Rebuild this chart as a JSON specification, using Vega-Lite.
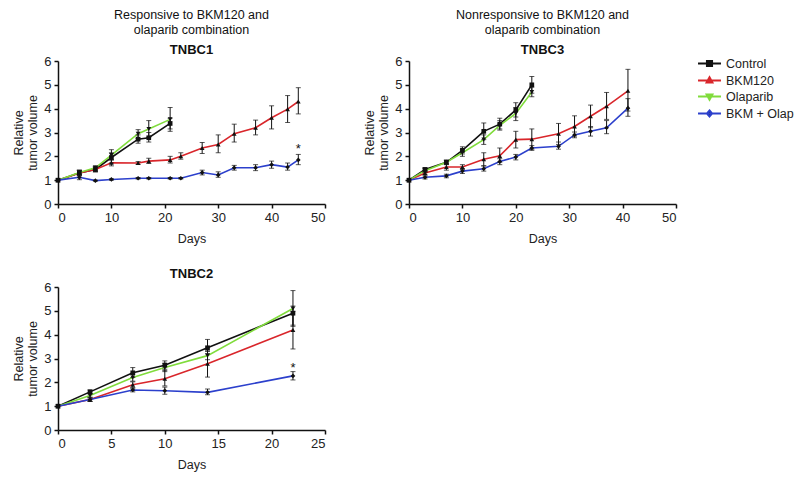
{
"$schema": "https://vega.github.io/schema/vega-lite/v6.json",
"padding": {"left": 12, "top": 8, "right": 5, "bottom": 5},
"config": {
  "font": "Liberation Sans",
  "view": {"stroke": null},
  "axis": {"grid": false, "domainColor": "#111", "domainWidth": 1.5, "tickColor": "#111", "tickWidth": 1.5, "tickSize": 4, "labelColor": "#222", "labelFontSize": 13, "titleColor": "#222", "titleFontSize": 12.5, "titleFontWeight": "normal", "labelPadding": 3},
  "axisX": {"titlePadding": 8},
  "title": {"color": "#111", "subtitleColor": "#111"},
  "legend": {"labelFontSize": 12.5, "labelColor": "#222"}
},
"datasets": {
  "d": [
    {"p":"TNBC1","g":"Control","day":0,"y":1,"lo":null,"hi":null},
    {"p":"TNBC1","g":"Control","day":4,"y":1.3,"lo":1.18,"hi":1.42},
    {"p":"TNBC1","g":"Control","day":7,"y":1.45,"lo":1.35,"hi":1.58},
    {"p":"TNBC1","g":"Control","day":10,"y":1.95,"lo":1.72,"hi":2.15},
    {"p":"TNBC1","g":"Control","day":15,"y":2.72,"lo":2.55,"hi":2.9},
    {"p":"TNBC1","g":"Control","day":17,"y":2.78,"lo":2.6,"hi":3.0},
    {"p":"TNBC1","g":"Control","day":21,"y":3.38,"lo":3.15,"hi":3.6},
    {"p":"TNBC1","g":"BKM120","day":0,"y":1,"lo":null,"hi":null},
    {"p":"TNBC1","g":"BKM120","day":4,"y":1.3,"lo":1.2,"hi":1.4},
    {"p":"TNBC1","g":"BKM120","day":7,"y":1.45,"lo":1.35,"hi":1.55},
    {"p":"TNBC1","g":"BKM120","day":10,"y":1.73,"lo":1.6,"hi":1.85},
    {"p":"TNBC1","g":"BKM120","day":15,"y":1.72,"lo":1.66,"hi":1.78},
    {"p":"TNBC1","g":"BKM120","day":17,"y":1.8,"lo":1.7,"hi":1.92},
    {"p":"TNBC1","g":"BKM120","day":21,"y":1.85,"lo":1.72,"hi":2.0},
    {"p":"TNBC1","g":"BKM120","day":23,"y":2.0,"lo":1.88,"hi":2.15},
    {"p":"TNBC1","g":"BKM120","day":27,"y":2.35,"lo":2.12,"hi":2.58},
    {"p":"TNBC1","g":"BKM120","day":30,"y":2.5,"lo":2.15,"hi":2.9},
    {"p":"TNBC1","g":"BKM120","day":33,"y":2.95,"lo":2.6,"hi":3.35},
    {"p":"TNBC1","g":"BKM120","day":37,"y":3.2,"lo":2.9,"hi":3.52},
    {"p":"TNBC1","g":"BKM120","day":40,"y":3.62,"lo":3.15,"hi":4.12},
    {"p":"TNBC1","g":"BKM120","day":43,"y":3.98,"lo":3.42,"hi":4.55},
    {"p":"TNBC1","g":"BKM120","day":45,"y":4.3,"lo":3.78,"hi":4.88},
    {"p":"TNBC1","g":"Olaparib","day":0,"y":1,"lo":null,"hi":null},
    {"p":"TNBC1","g":"Olaparib","day":4,"y":1.32,"lo":1.22,"hi":1.42},
    {"p":"TNBC1","g":"Olaparib","day":7,"y":1.52,"lo":1.42,"hi":1.6},
    {"p":"TNBC1","g":"Olaparib","day":10,"y":2.05,"lo":1.85,"hi":2.28},
    {"p":"TNBC1","g":"Olaparib","day":15,"y":2.95,"lo":2.75,"hi":3.12},
    {"p":"TNBC1","g":"Olaparib","day":17,"y":3.15,"lo":2.8,"hi":3.5},
    {"p":"TNBC1","g":"Olaparib","day":21,"y":3.55,"lo":3.05,"hi":4.05},
    {"p":"TNBC1","g":"BKM + Olap","day":0,"y":1,"lo":null,"hi":null},
    {"p":"TNBC1","g":"BKM + Olap","day":4,"y":1.12,"lo":1.02,"hi":1.25},
    {"p":"TNBC1","g":"BKM + Olap","day":7,"y":0.98,"lo":0.96,"hi":1.0},
    {"p":"TNBC1","g":"BKM + Olap","day":10,"y":1.03,"lo":1.0,"hi":1.06},
    {"p":"TNBC1","g":"BKM + Olap","day":15,"y":1.08,"lo":1.05,"hi":1.11},
    {"p":"TNBC1","g":"BKM + Olap","day":17,"y":1.08,"lo":1.05,"hi":1.11},
    {"p":"TNBC1","g":"BKM + Olap","day":21,"y":1.08,"lo":1.05,"hi":1.11},
    {"p":"TNBC1","g":"BKM + Olap","day":23,"y":1.08,"lo":1.05,"hi":1.11},
    {"p":"TNBC1","g":"BKM + Olap","day":27,"y":1.32,"lo":1.22,"hi":1.42},
    {"p":"TNBC1","g":"BKM + Olap","day":30,"y":1.22,"lo":1.12,"hi":1.35},
    {"p":"TNBC1","g":"BKM + Olap","day":33,"y":1.52,"lo":1.42,"hi":1.62},
    {"p":"TNBC1","g":"BKM + Olap","day":37,"y":1.52,"lo":1.4,"hi":1.65},
    {"p":"TNBC1","g":"BKM + Olap","day":40,"y":1.65,"lo":1.5,"hi":1.8},
    {"p":"TNBC1","g":"BKM + Olap","day":43,"y":1.55,"lo":1.42,"hi":1.72},
    {"p":"TNBC1","g":"BKM + Olap","day":45,"y":1.85,"lo":1.65,"hi":2.08},

    {"p":"TNBC3","g":"Control","day":0,"y":1,"lo":null,"hi":null},
    {"p":"TNBC3","g":"Control","day":3,"y":1.45,"lo":1.38,"hi":1.52},
    {"p":"TNBC3","g":"Control","day":7,"y":1.75,"lo":1.68,"hi":1.82},
    {"p":"TNBC3","g":"Control","day":10,"y":2.25,"lo":2.1,"hi":2.4},
    {"p":"TNBC3","g":"Control","day":14,"y":3.05,"lo":2.7,"hi":3.4},
    {"p":"TNBC3","g":"Control","day":17,"y":3.35,"lo":3.15,"hi":3.6},
    {"p":"TNBC3","g":"Control","day":20,"y":3.95,"lo":3.65,"hi":4.25},
    {"p":"TNBC3","g":"Control","day":23,"y":5.0,"lo":4.65,"hi":5.35},
    {"p":"TNBC3","g":"BKM120","day":0,"y":1,"lo":null,"hi":null},
    {"p":"TNBC3","g":"BKM120","day":3,"y":1.3,"lo":1.22,"hi":1.38},
    {"p":"TNBC3","g":"BKM120","day":7,"y":1.55,"lo":1.42,"hi":1.68},
    {"p":"TNBC3","g":"BKM120","day":10,"y":1.55,"lo":1.45,"hi":1.65},
    {"p":"TNBC3","g":"BKM120","day":14,"y":1.88,"lo":1.6,"hi":2.15},
    {"p":"TNBC3","g":"BKM120","day":17,"y":2.02,"lo":1.75,"hi":2.35},
    {"p":"TNBC3","g":"BKM120","day":20,"y":2.7,"lo":2.35,"hi":3.05},
    {"p":"TNBC3","g":"BKM120","day":23,"y":2.72,"lo":2.3,"hi":3.15},
    {"p":"TNBC3","g":"BKM120","day":28,"y":2.95,"lo":2.5,"hi":3.38},
    {"p":"TNBC3","g":"BKM120","day":31,"y":3.25,"lo":2.85,"hi":3.7},
    {"p":"TNBC3","g":"BKM120","day":34,"y":3.68,"lo":3.2,"hi":4.15},
    {"p":"TNBC3","g":"BKM120","day":37,"y":4.1,"lo":3.55,"hi":4.68},
    {"p":"TNBC3","g":"BKM120","day":41,"y":4.75,"lo":3.9,"hi":5.65},
    {"p":"TNBC3","g":"Olaparib","day":0,"y":1,"lo":null,"hi":null},
    {"p":"TNBC3","g":"Olaparib","day":3,"y":1.4,"lo":1.32,"hi":1.48},
    {"p":"TNBC3","g":"Olaparib","day":7,"y":1.75,"lo":1.65,"hi":1.85},
    {"p":"TNBC3","g":"Olaparib","day":10,"y":2.15,"lo":2.0,"hi":2.3},
    {"p":"TNBC3","g":"Olaparib","day":14,"y":2.7,"lo":2.5,"hi":2.9},
    {"p":"TNBC3","g":"Olaparib","day":17,"y":3.3,"lo":3.1,"hi":3.5},
    {"p":"TNBC3","g":"Olaparib","day":20,"y":3.8,"lo":3.5,"hi":4.05},
    {"p":"TNBC3","g":"Olaparib","day":23,"y":4.7,"lo":4.5,"hi":4.9},
    {"p":"TNBC3","g":"BKM + Olap","day":0,"y":1,"lo":null,"hi":null},
    {"p":"TNBC3","g":"BKM + Olap","day":3,"y":1.12,"lo":1.05,"hi":1.18},
    {"p":"TNBC3","g":"BKM + Olap","day":7,"y":1.18,"lo":1.1,"hi":1.25},
    {"p":"TNBC3","g":"BKM + Olap","day":10,"y":1.38,"lo":1.28,"hi":1.48},
    {"p":"TNBC3","g":"BKM + Olap","day":14,"y":1.48,"lo":1.38,"hi":1.6},
    {"p":"TNBC3","g":"BKM + Olap","day":17,"y":1.78,"lo":1.65,"hi":1.9},
    {"p":"TNBC3","g":"BKM + Olap","day":20,"y":1.97,"lo":1.85,"hi":2.08},
    {"p":"TNBC3","g":"BKM + Olap","day":23,"y":2.35,"lo":2.25,"hi":2.45},
    {"p":"TNBC3","g":"BKM + Olap","day":28,"y":2.42,"lo":2.3,"hi":2.6},
    {"p":"TNBC3","g":"BKM + Olap","day":31,"y":2.9,"lo":2.78,"hi":3.02},
    {"p":"TNBC3","g":"BKM + Olap","day":34,"y":3.05,"lo":2.85,"hi":3.25},
    {"p":"TNBC3","g":"BKM + Olap","day":37,"y":3.2,"lo":2.95,"hi":3.5},
    {"p":"TNBC3","g":"BKM + Olap","day":41,"y":4.02,"lo":3.68,"hi":4.42},

    {"p":"TNBC2","g":"Control","day":0,"y":1,"lo":null,"hi":null},
    {"p":"TNBC2","g":"Control","day":3,"y":1.6,"lo":1.52,"hi":1.68},
    {"p":"TNBC2","g":"Control","day":7,"y":2.4,"lo":2.2,"hi":2.62},
    {"p":"TNBC2","g":"Control","day":10,"y":2.72,"lo":2.55,"hi":2.9},
    {"p":"TNBC2","g":"Control","day":14,"y":3.45,"lo":3.2,"hi":3.8},
    {"p":"TNBC2","g":"Control","day":22,"y":4.9,"lo":4.4,"hi":5.2},
    {"p":"TNBC2","g":"BKM120","day":0,"y":1,"lo":null,"hi":null},
    {"p":"TNBC2","g":"BKM120","day":3,"y":1.28,"lo":1.2,"hi":1.35},
    {"p":"TNBC2","g":"BKM120","day":7,"y":1.9,"lo":1.78,"hi":2.02},
    {"p":"TNBC2","g":"BKM120","day":10,"y":2.15,"lo":1.85,"hi":2.5},
    {"p":"TNBC2","g":"BKM120","day":14,"y":2.78,"lo":2.22,"hi":3.32},
    {"p":"TNBC2","g":"BKM120","day":22,"y":4.2,"lo":3.4,"hi":4.98},
    {"p":"TNBC2","g":"Olaparib","day":0,"y":1,"lo":null,"hi":null},
    {"p":"TNBC2","g":"Olaparib","day":3,"y":1.45,"lo":1.38,"hi":1.52},
    {"p":"TNBC2","g":"Olaparib","day":7,"y":2.2,"lo":2.05,"hi":2.35},
    {"p":"TNBC2","g":"Olaparib","day":10,"y":2.62,"lo":2.45,"hi":2.8},
    {"p":"TNBC2","g":"Olaparib","day":14,"y":3.12,"lo":2.95,"hi":3.3},
    {"p":"TNBC2","g":"Olaparib","day":22,"y":5.1,"lo":4.35,"hi":5.85},
    {"p":"TNBC2","g":"BKM + Olap","day":0,"y":1,"lo":null,"hi":null},
    {"p":"TNBC2","g":"BKM + Olap","day":3,"y":1.28,"lo":1.2,"hi":1.35},
    {"p":"TNBC2","g":"BKM + Olap","day":7,"y":1.68,"lo":1.6,"hi":1.75},
    {"p":"TNBC2","g":"BKM + Olap","day":10,"y":1.65,"lo":1.5,"hi":1.8},
    {"p":"TNBC2","g":"BKM + Olap","day":14,"y":1.58,"lo":1.48,"hi":1.72},
    {"p":"TNBC2","g":"BKM + Olap","day":22,"y":2.27,"lo":2.1,"hi":2.45}
  ],
  "stars": [
    {"p":"TNBC1","day":45,"y":2.3,"t":"*"},
    {"p":"TNBC2","day":22,"y":2.6,"t":"*"}
  ]
},
"spacing": 23,
"vconcat": [
  {"hconcat": [
    {
      "title": {"text": ["Responsive to BKM120 and", "olaparib combination"], "subtitle": "TNBC1", "fontSize": 12.5, "fontWeight": "normal", "lineHeight": 15, "subtitleFontSize": 13, "subtitleFontWeight": "bold", "subtitlePadding": 8, "offset": -2},
      "width": 267, "height": 143,
      "data": {"name": "d"},
      "transform": [{"filter": "datum.p === 'TNBC1'"}],
      "encoding": {"x": {"field": "day", "type": "quantitative", "scale": {"domain": [0, 50]}, "axis": {"values": [0,10,20,30,40,50], "title": "Days"}}},
      "layer": [
        {"mark": {"type": "line", "strokeWidth": 1.6},
         "encoding": {
           "y": {"field": "y", "type": "quantitative", "scale": {"domain": [0, 6]}, "title": ["Relative", "tumor volume"], "axis": {"values": [0,1,2,3,4,5,6]}},
           "color": {"field": "g", "type": "nominal", "scale": {"domain": ["Control","BKM120","Olaparib","BKM + Olap"], "range": ["#111111","#d9262b","#80dc3c","#2c40cc"]},
             "legend": {"title": null, "orient": "none", "legendX": 642, "legendY": -7, "symbolSize": 289, "symbolStrokeWidth": 2, "rowPadding": 0, "labelOffset": 7,
               "encode": {"symbols": {"update": {"shape": {"signal": "datum.value === 'Control' ? 'M-1.35,0H1.35M-0.3,-0.3H0.3V0.3H-0.3Z' : datum.value === 'BKM120' ? 'M-1.35,0H1.35M0,-0.38L0.34,0.24H-0.34Z' : datum.value === 'Olaparib' ? 'M-1.35,0H1.35M0,0.38L0.34,-0.24H-0.34Z' : 'M-1.35,0H1.35M0,-0.36L0.3,0L0,0.36L-0.3,0Z'"}, "fill": {"value": "#111"}}}}}}
         }},
        {"transform": [{"filter": "datum.lo != null"}],
         "mark": {"type": "errorbar", "ticks": true, "color": "#111"},
         "encoding": {"y": {"field": "lo", "type": "quantitative", "title": ["Relative", "tumor volume"], "axis": {"values": [0,1,2,3,4,5,6]}}, "y2": {"field": "hi"}, "detail": {"field": "g"}}},
        {"mark": {"type": "point", "filled": true, "color": "#111", "size": 22, "opacity": 1},
         "encoding": {"y": {"field": "y", "type": "quantitative", "title": ["Relative", "tumor volume"], "axis": {"values": [0,1,2,3,4,5,6]}}, "shape": {"condition": [{"test": "datum.g === 'Control'", "value": "square"}, {"test": "datum.g === 'BKM120'", "value": "triangle-up"}, {"test": "datum.g === 'Olaparib'", "value": "triangle-down"}], "value": "diamond"}}},
        {"data": {"name": "stars"}, "transform": [{"filter": "datum.p === 'TNBC1'"}],
         "mark": {"type": "text", "fontSize": 13, "color": "#111"},
         "encoding": {"y": {"field": "y", "type": "quantitative", "title": ["Relative", "tumor volume"], "axis": {"values": [0,1,2,3,4,5,6]}}, "text": {"field": "t"}}}
      ]
    },
    {
      "title": {"text": ["Nonresponsive to BKM120 and", "olaparib combination"], "subtitle": "TNBC3", "fontSize": 12.5, "fontWeight": "normal", "lineHeight": 15, "subtitleFontSize": 13, "subtitleFontWeight": "bold", "subtitlePadding": 8, "offset": -2},
      "width": 267, "height": 143,
      "data": {"name": "d"},
      "transform": [{"filter": "datum.p === 'TNBC3'"}],
      "encoding": {"x": {"field": "day", "type": "quantitative", "scale": {"domain": [0, 50]}, "axis": {"values": [0,10,20,30,40,50], "title": "Days"}}},
      "layer": [
        {"mark": {"type": "line", "strokeWidth": 1.6},
         "encoding": {
           "y": {"field": "y", "type": "quantitative", "scale": {"domain": [0, 6]}, "title": ["Relative", "tumor volume"], "axis": {"values": [0,1,2,3,4,5,6]}},
           "color": {"field": "g", "type": "nominal"}
         }},
        {"transform": [{"filter": "datum.lo != null"}],
         "mark": {"type": "errorbar", "ticks": true, "color": "#111"},
         "encoding": {"y": {"field": "lo", "type": "quantitative", "title": ["Relative", "tumor volume"], "axis": {"values": [0,1,2,3,4,5,6]}}, "y2": {"field": "hi"}, "detail": {"field": "g"}}},
        {"mark": {"type": "point", "filled": true, "color": "#111", "size": 22, "opacity": 1},
         "encoding": {"y": {"field": "y", "type": "quantitative", "title": ["Relative", "tumor volume"], "axis": {"values": [0,1,2,3,4,5,6]}}, "shape": {"condition": [{"test": "datum.g === 'Control'", "value": "square"}, {"test": "datum.g === 'BKM120'", "value": "triangle-up"}, {"test": "datum.g === 'Olaparib'", "value": "triangle-down"}], "value": "diamond"}}}
      ]
    }
  ], "spacing": 37},
  {
    "title": {"text": "TNBC2", "fontSize": 13, "fontWeight": "bold", "offset": 0},
    "width": 267, "height": 143,
    "data": {"name": "d"},
    "transform": [{"filter": "datum.p === 'TNBC2'"}],
    "encoding": {"x": {"field": "day", "type": "quantitative", "scale": {"domain": [0, 25]}, "axis": {"values": [0,5,10,15,20,25], "title": "Days"}}},
    "layer": [
      {"mark": {"type": "line", "strokeWidth": 1.6},
       "encoding": {
         "y": {"field": "y", "type": "quantitative", "scale": {"domain": [0, 6]}, "title": ["Relative", "tumor volume"], "axis": {"values": [0,1,2,3,4,5,6]}},
         "color": {"field": "g", "type": "nominal"}
       }},
      {"transform": [{"filter": "datum.lo != null"}],
       "mark": {"type": "errorbar", "ticks": true, "color": "#111"},
       "encoding": {"y": {"field": "lo", "type": "quantitative", "title": ["Relative", "tumor volume"], "axis": {"values": [0,1,2,3,4,5,6]}}, "y2": {"field": "hi"}, "detail": {"field": "g"}}},
      {"mark": {"type": "point", "filled": true, "color": "#111", "size": 22, "opacity": 1},
       "encoding": {"y": {"field": "y", "type": "quantitative", "title": ["Relative", "tumor volume"], "axis": {"values": [0,1,2,3,4,5,6]}}, "shape": {"condition": [{"test": "datum.g === 'Control'", "value": "square"}, {"test": "datum.g === 'BKM120'", "value": "triangle-up"}, {"test": "datum.g === 'Olaparib'", "value": "triangle-down"}], "value": "diamond"}}},
      {"data": {"name": "stars"}, "transform": [{"filter": "datum.p === 'TNBC2'"}],
       "mark": {"type": "text", "fontSize": 13, "color": "#111"},
       "encoding": {"y": {"field": "y", "type": "quantitative", "title": ["Relative", "tumor volume"], "axis": {"values": [0,1,2,3,4,5,6]}}, "text": {"field": "t"}}}
    ]
  }
]
}
